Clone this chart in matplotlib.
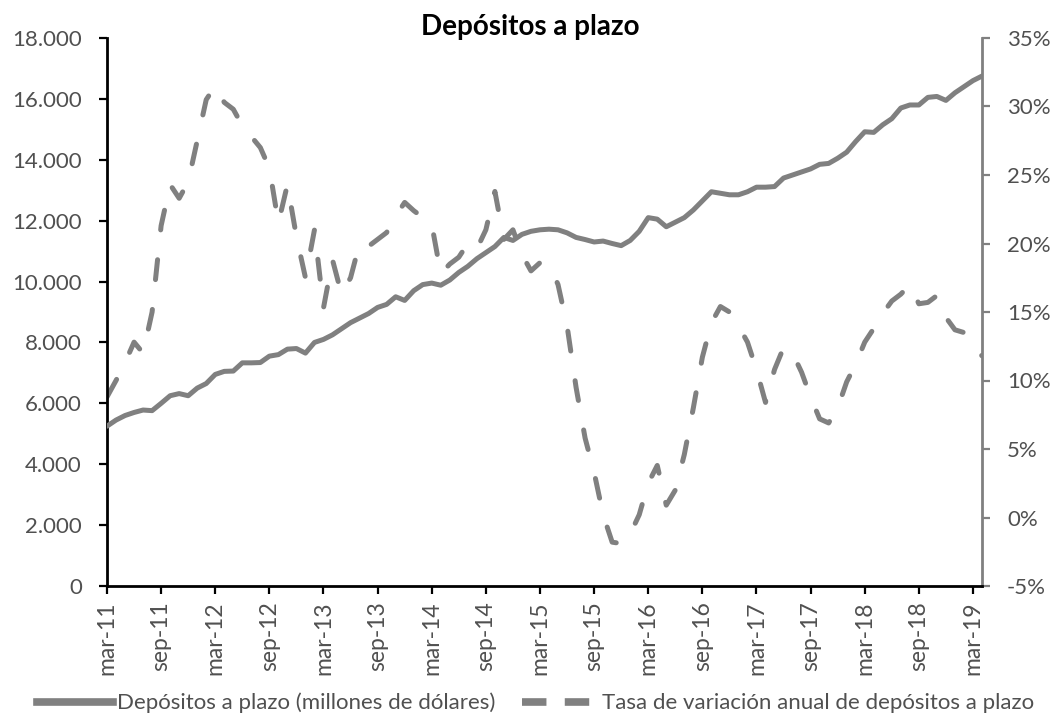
import matplotlib
matplotlib.use("Agg")
import matplotlib.pyplot as plt
from matplotlib.ticker import FuncFormatter, FixedLocator
from matplotlib.lines import Line2D

# ---- data (monthly, mar-11 .. apr-19) ----
months_es = ["ene", "feb", "mar", "abr", "may", "jun", "jul", "ago", "sep", "oct", "nov", "dic"]
start_year, start_month = 2011, 3
n_points = 98

depositos = [
    5250, 5450, 5600, 5700, 5780, 5760, 6000, 6250, 6320, 6250,
    6500, 6650, 6950, 7050, 7060, 7330, 7330, 7340, 7550, 7600,
    7780, 7800, 7650, 8000, 8100, 8250, 8450, 8650, 8800, 8950,
    9150, 9250, 9500, 9380, 9700, 9900, 9950, 9880, 10050, 10300,
    10500, 10750, 10950, 11150, 11450, 11350, 11550, 11650, 11700, 11720,
    11700, 11600, 11450, 11380, 11300, 11330, 11250, 11180, 11350, 11650,
    12100, 12050, 11800, 11950, 12100, 12350, 12650, 12950, 12900, 12850,
    12850, 12950, 13100, 13100, 13120, 13400, 13500, 13600, 13700, 13850,
    13880, 14050, 14250, 14600, 14920, 14900, 15150, 15350, 15700, 15800,
    15800, 16050, 16080, 15950, 16200, 16400, 16600, 16750,
]

tasa = [
    8.8, 10.0, 11.3, 12.8, 12.0, 15.0, 21.3, 24.3, 23.3, 24.5,
    27.5, 30.5, 31.5, 30.3, 29.8, 28.6, 27.8, 27.0, 25.5, 21.5,
    24.3, 20.5, 17.5, 21.0, 15.3, 18.8, 16.3, 17.5, 20.0, 19.8,
    20.3, 20.8, 22.0, 23.0, 22.4, 21.9, 21.4, 17.8, 18.5, 19.0,
    20.0, 19.6, 21.0, 23.8, 20.3, 21.0, 19.2, 18.0, 18.6, 18.5,
    17.0, 14.0, 9.5, 5.8, 3.3, 0.2, -1.8, -1.9, -1.2, 0.2,
    2.5, 3.8, 0.9, 2.0, 4.6, 8.0, 11.7, 14.2, 15.4, 15.0,
    14.0, 12.8, 10.8, 8.4, 10.8, 12.4, 12.0, 10.6, 8.8, 7.2,
    6.9, 8.0, 9.9, 11.2, 12.8, 13.8, 14.9, 15.8, 16.3, 17.0,
    15.6, 15.7, 16.2, 14.6, 13.7, 13.5, 12.5, 11.8,
]

left_ticks = [0, 2000, 4000, 6000, 8000, 10000, 12000, 14000, 16000, 18000]
right_ticks = [-5, 0, 5, 10, 15, 20, 25, 30, 35]

label_dep = "Depósitos a plazo (millones de dólares)"
label_tasa = "Tasa de variación anual de depósitos a plazo"
title = "Depósitos a plazo"

# ---- derived labels ----
x = list(range(n_points))
labels = []
for i in range(n_points):
    m = (start_month - 1 + i) % 12
    y = start_year + (start_month - 1 + i) // 12
    labels.append(f"{months_es[m]}-{str(y)[2:]}")
tick_idx = [i for i in range(n_points) if labels[i][:3] in ("mar", "sep")]

# ---- style ----
plt.rcParams['font.family'] = ['Lato', 'DejaVu Sans']
line_color = "#808080"
text_color = "#505050"

fig = plt.figure(figsize=(10.57, 7.13), dpi=100)
ax = fig.add_axes([107/1057, 1 - 586/713, (982 - 107)/1057, (586 - 38)/713])
ax2 = ax.twinx()

ax2.plot(x, tasa, color=line_color, lw=3.6, linestyle=(0, (4, 6)),
         dash_capstyle='round', solid_capstyle='round', zorder=2)
ax.plot(x, depositos, color=line_color, lw=3.6, solid_capstyle='round', zorder=3)

ax.set_zorder(ax2.get_zorder() + 1)
ax.patch.set_visible(False)

ax.set_xlim(0, n_points - 1)
ax.set_ylim(0, 18000)
ax2.set_ylim(-5, 35)

ax.yaxis.set_major_locator(FixedLocator(left_ticks))
ax.yaxis.set_major_formatter(FuncFormatter(lambda v, p: f"{int(v):,}".replace(",", ".")))
ax2.yaxis.set_major_locator(FixedLocator(right_ticks))
ax2.yaxis.set_major_formatter(FuncFormatter(lambda v, p: f"{int(v)}%"))

ax.set_xticks(tick_idx)
ax.set_xticklabels([labels[i] for i in tick_idx], rotation=90)

for a in (ax, ax2):
    a.spines['top'].set_visible(False)
ax.spines['right'].set_visible(False)
ax2.spines['left'].set_visible(False)
ax2.spines['bottom'].set_visible(False)
ax.spines['left'].set_color('black')
ax.spines['left'].set_linewidth(2.0)
ax.spines['bottom'].set_color('black')
ax.spines['bottom'].set_linewidth(2.0)
ax2.spines['right'].set_color(line_color)
ax2.spines['right'].set_linewidth(2.0)

ax.tick_params(axis='y', direction='out', length=6, width=1.6, color='black',
               labelsize=16, labelcolor=text_color, pad=12)
ax.tick_params(axis='x', direction='out', length=6, width=1.6, color='black',
               labelsize=16.5, labelcolor=text_color, pad=5)
ax2.tick_params(axis='y', direction='out', length=6, width=1.6, color=line_color,
                labelsize=16, labelcolor=text_color, pad=12)

fig.text(530/1057, 1 - 27/713, title, ha='center', va='center', fontsize=20,
         fontweight='bold', color='black')

handles = [Line2D([], [], color=line_color, lw=5.5),
           Line2D([], [], color=line_color, lw=5.5, linestyle=(0, (3.2, 2.4)))]
fig.legend(handles, [label_dep, label_tasa], loc='center',
           bbox_to_anchor=(536/1057, 1 - 703/713), ncol=2, frameon=False, fontsize=16,
           handlelength=3.4, handletextpad=0.2, columnspacing=1.2,
           labelcolor=text_color, borderpad=0.0, borderaxespad=0.0)

fig.savefig("out.png", dpi=100)
